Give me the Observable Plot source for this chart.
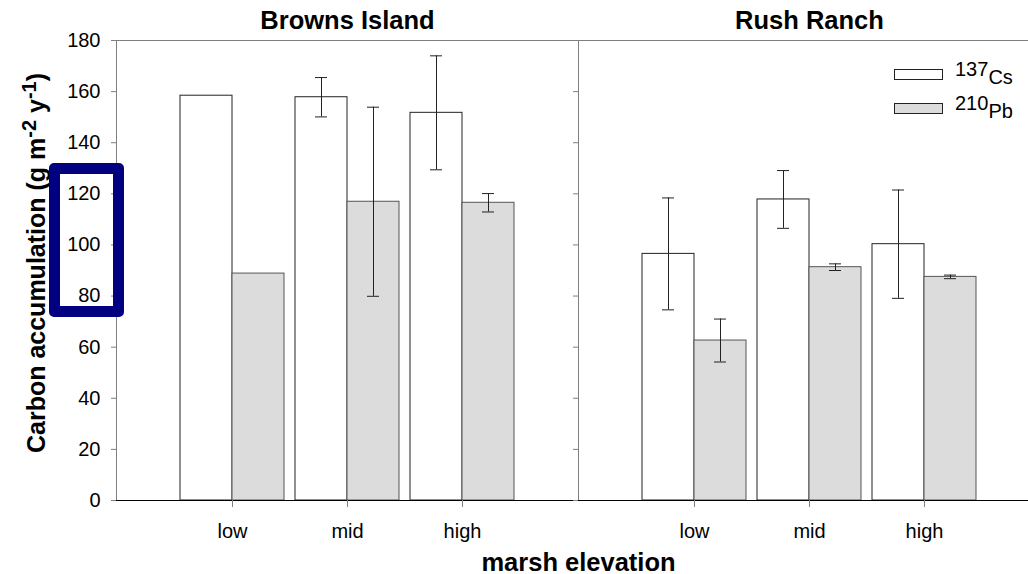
<!DOCTYPE html>
<html><head><meta charset="utf-8">
<script src="https://cdn.jsdelivr.net/npm/d3@7"></script>
<script src="https://cdn.jsdelivr.net/npm/@observablehq/plot@0.6"></script>
<style>
html,body{margin:0;padding:0;background:#fff;overflow:hidden;}
#wrap{position:relative;width:1040px;height:574px;font-family:"Liberation Sans",Arial,sans-serif;}
#wrap svg{max-width:none !important;display:block;}
.lg-row{position:absolute;left:0;height:34px;width:140px;font-size:20px;line-height:20px;color:#000;}
.lg-box{position:absolute;left:0;top:9px;width:49px;height:11px;box-sizing:border-box;border:1px solid #222;}
.lg-text{position:absolute;left:61px;top:-1px;white-space:nowrap;}
.lg-text span{position:relative;top:8px;}
#highlight{position:absolute;box-sizing:border-box;border:11px solid #000080;border-radius:5px;}
</style></head><body><div id="wrap"></div>
<script>
// ---- data ----
const sites = ["Browns Island", "Rush Ranch"];
const categories = ["low", "mid", "high"];
const isotopes = ["137Cs", "210Pb"];
const brownsCs = [158.4, 157.8, 151.7];
const brownsCsErr = [null, 7.7, 22.3];
const brownsPb = [88.8, 116.9, 116.5];
const brownsPbErr = [null, 37.0, 3.6];
const rushCs = [96.5, 117.8, 100.3];
const rushCsErr = [21.9, 11.3, 21.2];
const rushPb = [62.6, 91.3, 87.5];
const rushPbErr = [8.4, 1.3, 0.7];
const yTicks = [0, 20, 40, 60, 80, 100, 120, 140, 160, 180];
const highlightRange = [71.6, 131.8];

const seriesBySite = {
  "Browns Island": {cs: brownsCs, csErr: brownsCsErr, pb: brownsPb, pbErr: brownsPbErr},
  "Rush Ranch": {cs: rushCs, csErr: rushCsErr, pb: rushPb, pbErr: rushPbErr}
};
const rows = [];
for (const site of sites) {
  const s = seriesBySite[site];
  categories.forEach((elev, i) => {
    rows.push({site, elev, iso: isotopes[0], value: s.cs[i], err: s.csErr[i]});
    rows.push({site, elev, iso: isotopes[1], value: s.pb[i], err: s.pbErr[i]});
  });
}
const cs = rows.filter(d => d.iso === isotopes[0]);
const pb = rows.filter(d => d.iso === isotopes[1]);
const csE = cs.filter(d => d.err != null);
const pbE = pb.filter(d => d.err != null);

const FONT = "Liberation Sans, Arial, sans-serif";
const HALF = 52;   // half of the category band (one bar)
const CAP = 6;     // half width of error caps
const gray = "#7f7f7f";

const plot = Plot.plot({
  width: 1040,
  height: 574,
  marginTop: 40,
  marginBottom: 74,
  marginLeft: 116,
  marginRight: 0,
  style: {fontFamily: FONT, background: "white", color: "black"},
  fx: {domain: sites, padding: 0},
  x: {domain: categories, paddingInner: 0.0957, paddingOuter: 0.556},
  y: {domain: [0, 180]},
  marks: [
    Plot.barY(cs, {fx: "site", x: "elev", y: "value", fill: "white", stroke: "#222", strokeWidth: 1, insetRight: HALF}),
    Plot.barY(pb, {fx: "site", x: "elev", y: "value", fill: "#dcdcdc", stroke: "#555", strokeWidth: 1, insetLeft: HALF}),
    Plot.ruleX(csE, {fx: "site", x: "elev", y1: d => d.value - d.err, y2: d => d.value + d.err, dx: -HALF / 2, stroke: "#222"}),
    Plot.ruleX(pbE, {fx: "site", x: "elev", y1: d => d.value - d.err, y2: d => d.value + d.err, dx: HALF / 2, stroke: "#222"}),
    Plot.tickY(csE, {fx: "site", x: "elev", y: d => d.value + d.err, insetLeft: HALF / 2 - CAP, insetRight: HALF * 1.5 - CAP, stroke: "#222"}),
    Plot.tickY(csE, {fx: "site", x: "elev", y: d => d.value - d.err, insetLeft: HALF / 2 - CAP, insetRight: HALF * 1.5 - CAP, stroke: "#222"}),
    Plot.tickY(pbE, {fx: "site", x: "elev", y: d => d.value + d.err, insetLeft: HALF * 1.5 - CAP, insetRight: HALF / 2 - CAP, stroke: "#222"}),
    Plot.tickY(pbE, {fx: "site", x: "elev", y: d => d.value - d.err, insetLeft: HALF * 1.5 - CAP, insetRight: HALF / 2 - CAP, stroke: "#222"}),
    Plot.frame({anchor: "top", stroke: gray}),
    Plot.frame({anchor: "left", stroke: gray}),
    Plot.ruleY([0], {stroke: "black", insetLeft: -3}),
    Plot.axisY(yTicks, {anchor: "left", tickSize: 5, tickPadding: 11, stroke: gray, fontSize: 20, label: null}),
    Plot.axisY(yTicks, {anchor: "left", facetAnchor: "right", tickSize: 5, stroke: gray, tickFormat: () => "", label: null}),
    Plot.axisX({tickSize: 7, tickPadding: 16, stroke: gray, fontSize: 20, label: null}),
    Plot.axisFx({anchor: "top", tickSize: 0, tickPadding: 12, fontSize: 25.5, fontWeight: "bold", label: null}),
    Plot.axisFx({anchor: "bottom", ticks: [], label: "marsh elevation", labelAnchor: "center", labelArrow: "none", labelOffset: 70, fontSize: 25.5, fontWeight: "bold"})
  ]
});
plot.style.maxWidth = "none";

// y-axis title with superscripts, left of the tick labels
const yTitle = d3.select(plot).append("text")
  .attr("transform", "translate(45,263) rotate(-90)")
  .attr("text-anchor", "middle")
  .attr("font-family", FONT)
  .attr("font-size", 25)
  .attr("font-weight", "bold")
  .attr("fill", "black");
yTitle.append("tspan").text("Carbon accumulation (g m");
yTitle.append("tspan").attr("dy", "-0.45em").attr("font-size", "0.8em").text("-2");
yTitle.append("tspan").attr("dy", "0.36em").text(" y");
yTitle.append("tspan").attr("dy", "-0.45em").attr("font-size", "0.8em").text("-1");
yTitle.append("tspan").attr("dy", "0.36em").text(")");

const wrap = document.getElementById("wrap");
wrap.appendChild(plot);

// highlight box around y tick labels
const yScale = plot.scale("y");
const hl = document.createElement("div");
hl.id = "highlight";
const hlTop = yScale.apply(highlightRange[1]), hlBottom = yScale.apply(highlightRange[0]);
hl.style.left = "49px";
hl.style.width = "75px";
hl.style.top = hlTop + "px";
hl.style.height = (hlBottom - hlTop) + "px";
wrap.appendChild(hl);

// legend
const legend = document.createElement("div");
legend.style.cssText = "position:absolute;left:894px;top:60px;";
const legendItems = [
  {fill: "white", mass: "137", el: "Cs"},
  {fill: "#dcdcdc", mass: "210", el: "Pb"}
];
legendItems.forEach((it, i) => {
  const row = document.createElement("div");
  row.className = "lg-row";
  row.style.top = (i * 34) + "px";
  row.innerHTML = `<div class="lg-box" style="background:${it.fill}"></div><div class="lg-text">${it.mass}<span>${it.el}</span></div>`;
  legend.appendChild(row);
});
wrap.appendChild(legend);
</script></body></html>
